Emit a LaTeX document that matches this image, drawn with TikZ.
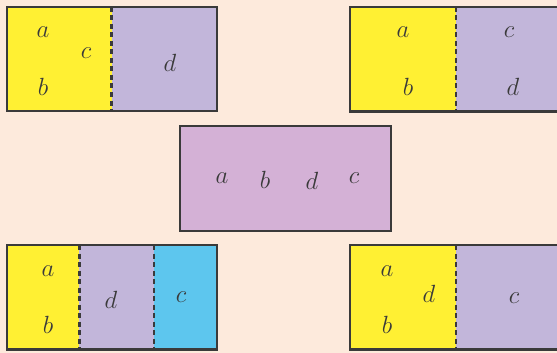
\documentclass[tikz,border=0pt]{standalone}
\definecolor{bgc}{HTML}{FDEADC}
\definecolor{yel}{HTML}{FFF033}
\definecolor{lav}{HTML}{C2B6DA}
\definecolor{pnk}{HTML}{D4B1D6}
\definecolor{cyn}{HTML}{5DC6EE}
\definecolor{edg}{HTML}{3A3A3A}
\tikzset{
  frame/.style={draw=edg,line width=2.5pt},
  divider/.style={draw=edg,line width=2.4pt,dash pattern=on 5pt off 3.5pt},
  lbl/.style={inner sep=0pt,text=edg,font=\fontsize{23}{27}\selectfont}
}
\begin{document}
\begin{tikzpicture}[x=1pt,y=-1pt]
\fill[bgc] (0,0) rectangle (557,353);
\useasboundingbox (0,0) rectangle (557,353);
% top-left
\fill[yel] (7,7) rectangle (111.5,111);
\fill[lav] (111.5,7) rectangle (217,111);
\draw[divider] (111.5,7) -- (111.5,111);
\draw[frame] (7,7) rectangle (217,111);
\node[lbl] (tla) at (43,32) {$a$};
\node[lbl] (tlc) at (86,53) {$c$};
\node[lbl] (tlb) at (43,87) {$b$};
\node[lbl] (tld) at (170,63) {$d$};
% top-right
\fill[yel] (350,7) rectangle (455.7,111.5);
\fill[lav] (455.7,7) rectangle (562,111.5);
\draw[divider] (455.7,7) -- (455.7,111.5);
\draw[frame] (350,7) rectangle (562,111.5);
\node[lbl] (tra) at (403,32) {$a$};
\node[lbl] (trc) at (509,32) {$c$};
\node[lbl] (trb) at (408,87) {$b$};
\node[lbl] (trd) at (513,87) {$d$};
% middle
\fill[pnk] (180,126) rectangle (391,231);
\draw[frame] (180,126) rectangle (391,231);
\node[lbl] (ma) at (222,178) {$a$};
\node[lbl] (mb) at (265,180) {$b$};
\node[lbl] (md) at (312,181) {$d$};
\node[lbl] (mc) at (354,178) {$c$};
% bottom-left
\fill[yel] (7,245) rectangle (79.3,349.5);
\fill[lav] (79.3,245) rectangle (154,349.5);
\fill[cyn] (154,245) rectangle (217,349.5);
\draw[divider] (79.3,245) -- (79.3,349.5);
\draw[divider] (154,245) -- (154,349.5);
\draw[frame] (7,245) rectangle (217,349.5);
\node[lbl] (bla) at (48,271) {$a$};
\node[lbl] (blb) at (48,325) {$b$};
\node[lbl] (bld) at (111,300) {$d$};
\node[lbl] (blc) at (181,297) {$c$};
% bottom-right
\fill[yel] (350,245) rectangle (455.7,349.5);
\fill[lav] (455.7,245) rectangle (562,349.5);
\draw[divider] (455.7,245) -- (455.7,349.5);
\draw[frame] (350,245) rectangle (562,349.5);
\node[lbl] (bra) at (387,271) {$a$};
\node[lbl] (brd) at (429,294) {$d$};
\node[lbl] (brb) at (387,325) {$b$};
\node[lbl] (brc) at (514,298) {$c$};
\end{tikzpicture}
\end{document}
